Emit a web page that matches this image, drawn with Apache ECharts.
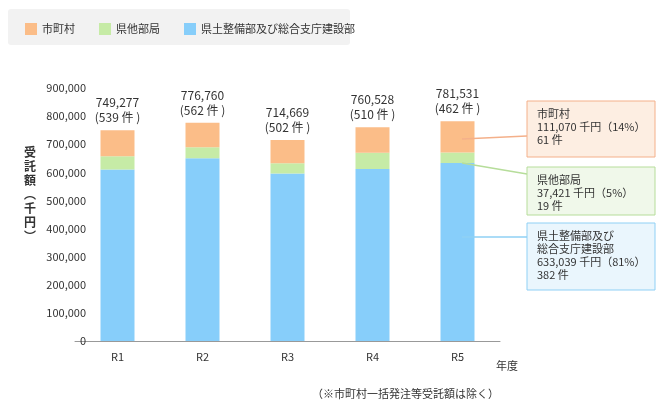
<!DOCTYPE html><html><head><meta charset="utf-8"><script src="https://cdn.jsdelivr.net/npm/echarts@6/dist/echarts.min.js"></script>
<style>body{margin:0;background:#fff}#c{width:670px;height:410px}</style></head><body><div id="c"></div><script>
const categories=['R1','R2','R3','R4','R5'];
const kenDoboku=[610000,650000,596000,612000,633039];
const kenOther=[47000,39000,36000,58000,37421];
const city=[92277,87760,82669,90528,111070];
const totals=['749,277','776,760','714,669','760,528','781,531'];
const counts=[539,562,502,510,462];
const seriesNames=['市町村','県他部局','県土整備部及び総合支庁建設部'];
const colors=['#fbbd88','#c6eba6','#87cefa'];
const F='"Noto Sans CJK JP","Noto Sans",sans-serif';
const ch=echarts.init(document.getElementById('c'));
const boxes=[
 {y:101,h:56,fill:'#fdeee2',stroke:'#f4b08a',text:'市町村\n111,070 千円（14%）\n61 件',ly:136,sx:462,sy:139},
 {y:167,h:48,fill:'#f0f8ea',stroke:'#b6dd9a',text:'県他部局\n37,421 千円（5%）\n19 件',ly:174,sx:462,sy:163},
 {y:223,h:67,fill:'#eaf6fd',stroke:'#8fd0f5',text:'県土整備部及び\n総合支庁建設部\n633,039 千円（81%）\n382 件',ly:237,sx:462,sy:237}];
const graphic=[{type:'rect',shape:{x:8,y:9,width:342,height:36,r:3},style:{fill:'#f2f2f2'},z:-1}];
boxes.forEach(b=>{
 graphic.push({type:'line',shape:{x1:b.sx,y1:b.sy,x2:527,y2:b.ly},style:{stroke:b.stroke,lineWidth:1.5},z:10});
 graphic.push({type:'rect',shape:{x:527,y:b.y,width:128,height:b.h},style:{fill:b.fill,stroke:b.stroke,lineWidth:1},z:11});
 graphic.push({type:'text',x:537,y:b.y+6,style:{text:b.text,fill:'#333',font:'11px '+F,lineHeight:13},z:12});
});
graphic.push({type:'text',left:24,top:145,style:{text:'受\n託\n額\n︵\n千\n円\n︶',fill:'#333',font:'bold 12px '+F,lineHeight:14}});
graphic.push({type:'text',left:496,top:360,style:{text:'年度',fill:'#333',font:'11px '+F}});
graphic.push({type:'text',left:312,top:388,style:{text:'（※市町村一括発注等受託額は除く）',fill:'#333',font:'11px '+F}});
ch.setOption({
 animation:false,
 textStyle:{fontFamily:F},
 legend:{left:20,top:18,itemWidth:12,itemHeight:12,itemGap:24,icon:'rect',data:seriesNames,textStyle:{fontSize:11,color:'#333'}},
 grid:{left:75,right:170,top:88,bottom:69},
 xAxis:{type:'category',data:categories,axisTick:{show:false},axisLine:{lineStyle:{color:'#999'}},axisLabel:{color:'#333',fontSize:11,margin:10}},
 yAxis:{type:'value',min:0,max:900000,interval:100000,splitLine:{show:false},axisLine:{show:false},axisTick:{show:false},
  axisLabel:{color:'#333',fontSize:11,margin:-11,formatter:v=>v.toLocaleString('en-US')}},
 graphic,
 series:[
  {name:seriesNames[2],type:'bar',stack:'a',data:kenDoboku,barWidth:34,itemStyle:{color:colors[2]}},
  {name:seriesNames[1],type:'bar',stack:'a',data:kenOther,itemStyle:{color:colors[1]}},
  {name:seriesNames[0],type:'bar',stack:'a',data:city,itemStyle:{color:colors[0]},
   label:{show:true,position:'top',color:'#333',fontSize:12,lineHeight:15,formatter:p=>totals[p.dataIndex]+'\n('+counts[p.dataIndex]+' 件 )'}}
 ]});
</script></body></html>
